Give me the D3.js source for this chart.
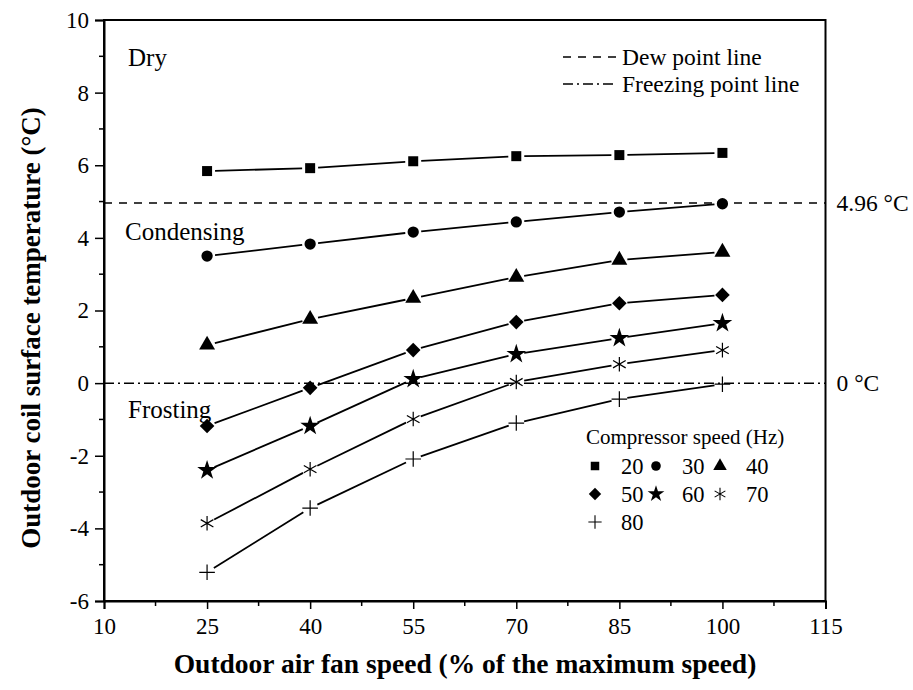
<!DOCTYPE html>
<html>
<head>
<meta charset="utf-8">
<script src="https://cdn.jsdelivr.net/npm/d3@7"></script>
<style>
  html, body { margin: 0; padding: 0; background: #fff; }
  svg text { font-family: "Liberation Serif", "Times New Roman", serif; fill: #000; }
</style>
</head>
<body>
<svg id="chart" width="913" height="690"></svg>
<script>
// Outdoor air fan speed (% of max) at which each run was taken
const fanSpeeds = [25, 40, 55, 70, 85, 100];
// Compressor speeds (Hz), one series each
const compressorSpeeds = [20, 30, 40, 50, 60, 70, 80];
// Outdoor coil surface temperature (°C) for each compressor speed
const temp20 = [5.84, 5.92, 6.11, 6.25, 6.28, 6.34];
const temp30 = [3.50, 3.83, 4.16, 4.44, 4.71, 4.94];
const temp40 = [1.05, 1.76, 2.34, 2.92, 3.39, 3.61];
const temp50 = [-1.18, -0.13, 0.91, 1.68, 2.20, 2.43];
const temp60 = [-2.40, -1.18, 0.11, 0.80, 1.24, 1.65];
const temp70 = [-3.86, -2.37, -0.99, 0.03, 0.52, 0.91];
const temp80 = [-5.21, -3.44, -2.09, -1.10, -0.44, -0.03];
const seriesValues = [temp20, temp30, temp40, temp50, temp60, temp70, temp80];
// Reference lines
const dewPoint = 4.96;
const freezingPoint = 0;
// Axis ticks
const xTicks = [10, 25, 40, 55, 70, 85, 100, 115];
const yTicks = [-6, -4, -2, 0, 2, 4, 6, 8, 10];

const svg = d3.select("#chart");
const plotL = 104, plotR = 825.5, plotT = 20, plotB = 601;

const x = d3.scaleLinear().domain([10, 115]).range([plotL, plotR]);
const y = d3.scaleLinear().domain([-6, 10]).range([plotB, plotT]);

// Plain hyphen for negatives
const fmt = d => String(d);

// Marker shapes
const asteriskPath = (r) => {
  const a = r * Math.cos(Math.PI / 6), b = r * Math.sin(Math.PI / 6);
  return `M0,${-r}L0,${r}M${-a},${-b}L${a},${b}M${-a},${b}L${a},${-b}`;
};
const plusPath = (r) => `M${-r},0L${r},0M0,${-r}L0,${r}`;
const diamondPath = (r) => `M0,${-r}L${r},0L0,${r}L${-r},0Z`;
const symbolTypes = [d3.symbolSquare, d3.symbolCircle, d3.symbolTriangle, null, d3.symbolStar];
const symbolAreas = [100, 100, 110, 0, 120];
const markerPath = (i, s) => {
  if (i === 3) return diamondPath(7.3 * s);
  if (i === 5) return asteriskPath(7.3 * s);
  if (i === 6) return plusPath(7.8 * s);
  return d3.symbol(symbolTypes[i], symbolAreas[i] * s * s)();
};
const isFilled = (i) => i < 5;

// Plot frame
const g = svg.append("g");
g.append("rect")
  .attr("x", plotL).attr("y", plotT)
  .attr("width", plotR - plotL).attr("height", plotB - plotT)
  .attr("fill", "none").attr("stroke", "#000").attr("stroke-width", 2);

// Bottom axis: major + minor ticks
const xAxis = d3.axisBottom(x).tickValues(xTicks).tickSize(8).tickPadding(5).tickFormat(fmt);
const xg = g.append("g").attr("transform", `translate(0,${plotB})`).call(xAxis);
const xMinor = d3.range(17.5, 115, 15);
xg.selectAll(".minor").data(xMinor).enter().append("line")
  .attr("class", "minor")
  .attr("x1", d => x(d)).attr("x2", d => x(d))
  .attr("y1", 0).attr("y2", 5).attr("stroke", "#000").attr("stroke-width", 1.5);

// Left axis
const yAxis = d3.axisLeft(y).tickValues(yTicks).tickSize(9).tickPadding(6).tickFormat(fmt);
const yg = g.append("g").attr("transform", `translate(${plotL},0)`).call(yAxis);
const yMinor = d3.range(-5, 10, 2);
yg.selectAll(".minor").data(yMinor).enter().append("line")
  .attr("class", "minor")
  .attr("x1", 0).attr("x2", -5)
  .attr("y1", d => y(d)).attr("y2", d => y(d)).attr("stroke", "#000").attr("stroke-width", 1.5);

[xg, yg].forEach(ax => {
  ax.select(".domain").attr("stroke-width", 2);
  ax.selectAll(".tick line").attr("stroke-width", 1.5);
  ax.selectAll(".tick text").style("font-size", "23px").attr("fill", "#000")
    .style("font-family", "'Liberation Serif', serif");
});
xg.selectAll(".tick text").attr("dy", "0.85em");

// Dew point and freezing point reference lines
g.append("line")
  .attr("x1", plotL).attr("x2", plotR)
  .attr("y1", y(dewPoint)).attr("y2", y(dewPoint))
  .attr("stroke", "#000").attr("stroke-width", 1.5).attr("stroke-dasharray", "8,7");
g.append("line")
  .attr("x1", plotL).attr("x2", plotR)
  .attr("y1", y(freezingPoint)).attr("y2", y(freezingPoint))
  .attr("stroke", "#000").attr("stroke-width", 1.5).attr("stroke-dasharray", "10,4,2,4");

// Labels on the right side for the reference lines
g.append("text").attr("x", plotR + 11).attr("y", y(dewPoint) + 8)
  .style("font-size", "23.5px").text(`${dewPoint} °C`);
g.append("text").attr("x", plotR + 11).attr("y", y(freezingPoint) + 8)
  .style("font-size", "23.5px").text(`${freezingPoint} °C`);

// Region labels
g.append("text").attr("x", 128).attr("y", 66).style("font-size", "25px").text("Dry");
g.append("text").attr("x", 125).attr("y", 240).style("font-size", "25px").text("Condensing");
g.append("text").attr("x", 128).attr("y", 418).style("font-size", "25px").text("Frosting");

// Series: connecting segments shortened near each marker, then markers
const gap = 8;
seriesValues.forEach((vals, si) => {
  const pts = vals.map((v, i) => [x(fanSpeeds[i]), y(v)]);
  for (let i = 0; i < pts.length - 1; i++) {
    const [x0, y0] = pts[i], [x1, y1] = pts[i + 1];
    const len = Math.hypot(x1 - x0, y1 - y0);
    const ux = (x1 - x0) / len, uy = (y1 - y0) / len;
    g.append("line")
      .attr("x1", x0 + ux * gap).attr("y1", y0 + uy * gap)
      .attr("x2", x1 - ux * gap).attr("y2", y1 - uy * gap)
      .attr("stroke", "#000").attr("stroke-width", 1.8);
  }
  g.append("g").selectAll("path").data(pts).enter().append("path")
    .attr("transform", d => `translate(${d[0]},${d[1]})`)
    .attr("d", markerPath(si, 1))
    .attr("fill", isFilled(si) ? "#000" : "none")
    .attr("stroke", "#000").attr("stroke-width", isFilled(si) ? 0 : 1.2);
});

// Reference-line legend
const leg1 = g.append("g");
[["8,7", "Dew point line", 57], ["10,4,2,4", "Freezing point line", 84]]
  .forEach(([dash, label, yy]) => {
    leg1.append("line").attr("x1", 563).attr("x2", 617).attr("y1", yy).attr("y2", yy)
      .attr("stroke", "#000").attr("stroke-width", 1.5).attr("stroke-dasharray", dash);
    leg1.append("text").attr("x", 622).attr("y", yy + 8).style("font-size", "23.5px").text(label);
  });

// Compressor speed legend
const leg2 = g.append("g");
leg2.append("text").attr("x", 586).attr("y", 444).style("font-size", "21px").text("Compressor speed (Hz)");
const colX = [595, 656, 720];
compressorSpeeds.forEach((hz, i) => {
  const col = i % 3, row = Math.floor(i / 3);
  const cx = colX[col], cy = 466 + row * 28;
  leg2.append("path").attr("transform", `translate(${cx},${cy})`)
    .attr("d", markerPath(i, 0.85))
    .attr("fill", isFilled(i) ? "#000" : "none")
    .attr("stroke", "#000").attr("stroke-width", isFilled(i) ? 0 : 1.1);
  leg2.append("text").attr("x", cx + 26).attr("y", cy + 8).style("font-size", "22.5px").text(hz);
});

// Axis titles
svg.append("text").attr("x", 465).attr("y", 673)
  .attr("text-anchor", "middle").style("font-size", "27.5px").style("font-weight", "bold")
  .text("Outdoor air fan speed (% of the maximum speed)");
svg.append("text").attr("transform", `translate(40,328) rotate(-90)`)
  .attr("text-anchor", "middle").style("font-size", "27px").style("font-weight", "bold")
  .text("Outdoor coil surface temperature (°C)");
</script>
</body>
</html>
